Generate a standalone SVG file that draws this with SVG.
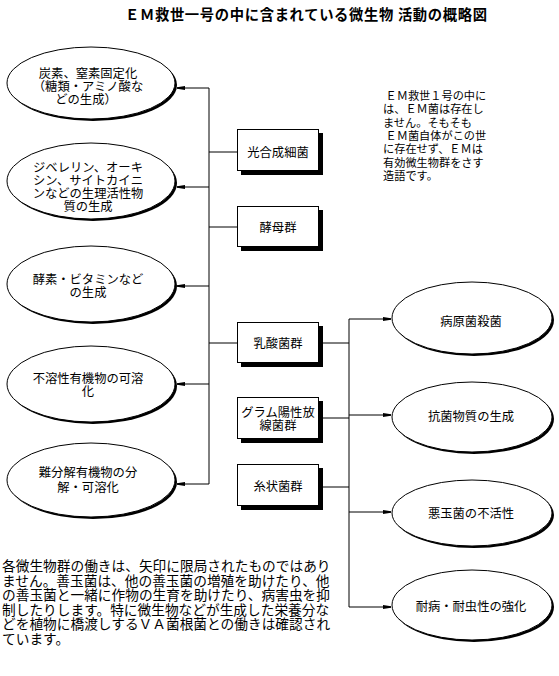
<svg xmlns="http://www.w3.org/2000/svg" width="559" height="676" viewBox="0 0 559 676">
<style>
text{font-family:"Noto Sans CJK JP","Noto Sans",sans-serif;fill:#000}
.t{font-size:12.3px;text-anchor:middle}
.sh{fill:#000}
.el{fill:#fff;stroke:#000;stroke-width:1}
.bx{fill:#fff;stroke:#000;stroke-width:1}
.ln{fill:none;stroke:#000;stroke-width:1}
</style>
<defs>
<marker id="ah" markerWidth="8" markerHeight="6" refX="8" refY="3" orient="auto" markerUnits="userSpaceOnUse">
<path d="M0,1 L8,2.2 L8,3.8 L0,5 Z" fill="#000"/>
</marker>
</defs>
<rect width="559" height="676" fill="#fff"/>
<text x="125" y="20" textLength="362" lengthAdjust="spacing" style="font-size:14.3px;font-weight:bold">ＥＭ救世一号の中に含まれている微生物 活動の概略図</text>

<g id="connectors">
<path class="ln" d="M209,88 V484"/>
<path class="ln" d="M209,88 H177" marker-end="url(#ah)"/>
<path class="ln" d="M209,187 H177" marker-end="url(#ah)"/>
<path class="ln" d="M209,286 H177" marker-end="url(#ah)"/>
<path class="ln" d="M209,384 H177" marker-end="url(#ah)"/>
<path class="ln" d="M209,484 H177" marker-end="url(#ah)"/>
<path class="ln" d="M209,152 H237"/>
<path class="ln" d="M209,227 H237"/>
<path class="ln" d="M209,343 H237"/>
<path class="ln" d="M319,343 H349"/>
<path class="ln" d="M319,418 H349"/>
<path class="ln" d="M319,487 H349"/>
<path class="ln" d="M349,319 V607"/>
<path class="ln" d="M349,319 H391" marker-end="url(#ah)"/>
<path class="ln" d="M349,415 H391" marker-end="url(#ah)"/>
<path class="ln" d="M349,512 H391" marker-end="url(#ah)"/>
<path class="ln" d="M349,607 H391" marker-end="url(#ah)"/>
</g>

<g id="e1">
<ellipse class="sh" cx="93" cy="85" rx="84" ry="36"/>
<ellipse class="el" cx="91" cy="83" rx="84" ry="36"/>
<text class="t" x="88" y="78">炭素、窒素固定化</text>
<text class="t" x="88" y="91">（糖類・アミノ酸な</text>
<text class="t" x="86" y="104">どの生成）</text>
</g>
<g id="e2">
<ellipse class="sh" cx="93" cy="183" rx="84" ry="38"/>
<ellipse class="el" cx="91" cy="181" rx="84" ry="38"/>
<text class="t" x="88" y="172">ジベレリン、オーキ</text>
<text class="t" x="88" y="185">シン、サイトカイニ</text>
<text class="t" x="88" y="198">ンなどの生理活性物</text>
<text class="t" x="88" y="211">質の生成</text>
</g>
<g id="e3">
<ellipse class="sh" cx="93" cy="286" rx="84" ry="38"/>
<ellipse class="el" cx="91" cy="284" rx="84" ry="38"/>
<text class="t" x="88" y="284">酵素・ビタミンなど</text>
<text class="t" x="88" y="297">の生成</text>
</g>
<g id="e4">
<ellipse class="sh" cx="93" cy="386" rx="84" ry="38"/>
<ellipse class="el" cx="91" cy="384" rx="84" ry="38"/>
<text class="t" x="88" y="383">不溶性有機物の可溶</text>
<text class="t" x="88" y="396">化</text>
</g>
<g id="e5">
<ellipse class="sh" cx="93" cy="482" rx="84" ry="37"/>
<ellipse class="el" cx="91" cy="480" rx="84" ry="37"/>
<text class="t" x="88" y="477">難分解有機物の分</text>
<text class="t" x="88" y="492">解・可溶化</text>
</g>

<g id="b1">
<rect class="sh" x="241" y="133" width="82" height="42"/>
<rect class="bx" x="237.5" y="129.5" width="81" height="41"/>
<text class="t" x="278" y="157">光合成細菌</text>
</g>
<g id="b2">
<rect class="sh" x="241" y="210" width="82" height="41"/>
<rect class="bx" x="237.5" y="206.5" width="81" height="40"/>
<text class="t" x="278" y="232">酵母群</text>
</g>
<g id="b3">
<rect class="sh" x="241" y="326" width="82" height="41"/>
<rect class="bx" x="237.5" y="322.5" width="81" height="40"/>
<text class="t" x="278" y="348">乳酸菌群</text>
</g>
<g id="b4">
<rect class="sh" x="241" y="401" width="82" height="42"/>
<rect class="bx" x="237.5" y="397.5" width="81" height="41"/>
<text class="t" x="278" y="417">グラム陽性放</text>
<text class="t" x="278" y="430">線菌群</text>
</g>
<g id="b5">
<rect class="sh" x="241" y="468" width="82" height="42"/>
<rect class="bx" x="237.5" y="464.5" width="81" height="41"/>
<text class="t" x="278" y="491">糸状菌群</text>
</g>

<g id="r1">
<ellipse class="sh" cx="474" cy="320" rx="80" ry="36"/>
<ellipse class="el" cx="472" cy="318" rx="80" ry="36"/>
<text class="t" x="471" y="326">病原菌殺菌</text>
</g>
<g id="r2">
<ellipse class="sh" cx="474" cy="419" rx="80" ry="35"/>
<ellipse class="el" cx="472" cy="417" rx="80" ry="35"/>
<text class="t" x="471" y="421">抗菌物質の生成</text>
</g>
<g id="r3">
<ellipse class="sh" cx="474" cy="515" rx="80" ry="33"/>
<ellipse class="el" cx="472" cy="513" rx="80" ry="33"/>
<text class="t" x="471" y="518">悪玉菌の不活性</text>
</g>
<g id="r4">
<ellipse class="sh" cx="474" cy="607" rx="80" ry="35"/>
<ellipse class="el" cx="472" cy="605" rx="80" ry="35"/>
<text class="t" x="471" y="611">耐病・耐虫性の強化</text>
</g>

<g id="note" style="font-size:11.2px">
<text x="383" y="100" xml:space="preserve"> ＥＭ救世１号の中に</text>
<text x="383" y="113">は、ＥＭ菌は存在し</text>
<text x="383" y="127">ません。そもそも</text>
<text x="383" y="140" xml:space="preserve"> ＥＭ菌自体がこの世</text>
<text x="383" y="153">に存在せず、ＥＭは</text>
<text x="383" y="167">有効微生物群をさす</text>
<text x="383" y="180">造語です。</text>
</g>

<g id="footnote" style="font-size:13.7px">
<text x="2" y="571">各微生物群の働きは、矢印に限局されたものではあり</text>
<text x="2" y="586">ません。善玉菌は、他の善玉菌の増殖を助けたり、他</text>
<text x="2" y="600">の善玉菌と一緒に作物の生育を助けたり、病害虫を抑</text>
<text x="2" y="615">制したりします。特に微生物などが生成した栄養分な</text>
<text x="2" y="629">どを植物に橋渡しするＶＡ菌根菌との働きは確認され</text>
<text x="2" y="644">ています。</text>
</g>
</svg>
